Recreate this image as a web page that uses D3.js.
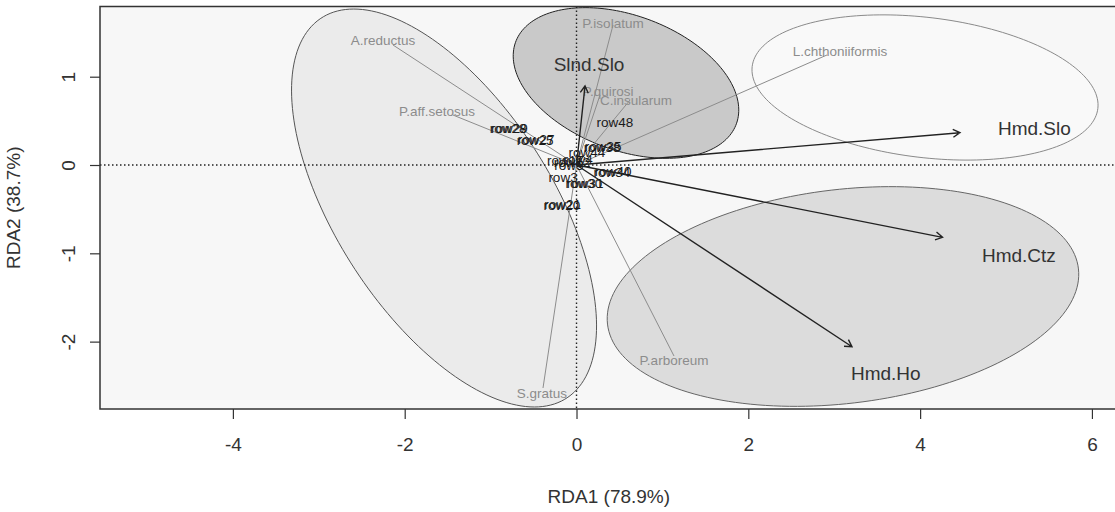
<!DOCTYPE html>
<html><head><meta charset="utf-8">
<script src="https://cdn.jsdelivr.net/npm/d3@7"></script>
<style>body{margin:0;background:#fff;} text{font-family:"Liberation Sans",Arial,sans-serif;}</style>
</head><body><svg id="c" width="1115" height="512"></svg>
<script>
// ---- data ----
const xTicks = [-4, -2, 0, 2, 4, 6];
const yTicks = [-2, -1, 0, 1];
const xTitle = "RDA1 (78.9%)";
const yTitle = "RDA2 (38.7%)";

// environmental arrows
const envNames = ["Slnd.Slo", "Hmd.Slo", "Hmd.Ctz", "Hmd.Ho"];
const envX = [0.099, 4.464, 4.261, 3.207];
const envY = [0.895, 0.366, -0.819, -2.058];
const envLabX = [0.146, 5.33, 5.15, 3.60];
const envLabY = [1.138, 0.413, -1.019, -2.36];

// species
const spNames = ["A.reductus", "P.aff.setosus", "P.isolatum", "P.quirosi", "C.insularum", "L.chthoniiformis", "P.arboreum", "S.gratus"];
const spX = [-2.136, -1.438, 0.425, 0.274, 0.623, 2.916, 1.135, -0.39];
const spY = [1.359, 0.566, 1.585, 0.793, 0.736, 1.246, -2.163, -2.525];
const spLabX = [-2.253, -1.624, 0.425, 0.367, 0.693, 3.067, 1.135, -0.402];
const spLabY = [1.416, 0.612, 1.608, 0.838, 0.736, 1.291, -2.208, -2.582];

// site (row) scores
const rowNames = ["row28", "row29", "row25", "row27", "row48", "row38", "row35", "row44", "row17", "row12", "row4", "row5", "row34", "row40", "row3", "row30", "row31", "row20", "row21"];
const rowX = [-0.797, -0.78, -0.483, -0.47, 0.448, 0.297, 0.31, 0.122, -0.13, -0.05, 0.02, -0.09, 0.413, 0.425, -0.157, 0.087, 0.1, -0.169, -0.16];
const rowY = [0.419, 0.412, 0.283, 0.29, 0.487, 0.204, 0.21, 0.147, 0.05, 0.03, 0.06, 0.0, -0.079, -0.07, -0.136, -0.204, -0.21, -0.453, -0.45];

// group ellipses (data units)
const ellNames = ["Sld.Slo.grp", "Slnd.Slo.grp", "Hmd.Slo.grp", "Hmd.Ctz.grp"];
const ellCx = [-1.542, 0.576, 4.057, 3.102];
const ellCy = [-0.487, 0.929, 0.878, -1.489];
const ellRx = [2.583, 1.366, 2.026, 2.759];
const ellRy = [1.248, 0.765, 0.793, 1.212];
const ellAng = [-56.06, -19.49, -6.7, 6.5];
const ellFill = ["#ebebeb", "#c9c9c9", "#f9f9f9", "#dcdcdc"];
const ellStroke = ["#555555", "#222222", "#8a8a8a", "#666666"];

// ---- layout ----
const svg = d3.select("#c");
const x = d3.scaleLinear().domain([-5.547, 6.3]).range([100, 1117.7]);
const y = d3.scaleLinear().domain([-2.763, 1.795]).range([409, 6.5]);

// plot background
svg.append("rect").attr("x", x(-5.547)).attr("y", y(1.795))
  .attr("width", x(6.3) - x(-5.547)).attr("height", y(-2.763) - y(1.795))
  .attr("fill", "#f7f7f7");

// ellipses
const line = d3.line().x(d => x(d[0])).y(d => y(d[1])).curve(d3.curveLinearClosed);
ellNames.forEach((n, i) => {
  const a = ellAng[i] * Math.PI / 180, pts = [];
  for (let k = 0; k < 180; k++) {
    const t = k / 180 * 2 * Math.PI;
    pts.push([
      ellCx[i] + ellRx[i] * Math.cos(t) * Math.cos(a) - ellRy[i] * Math.sin(t) * Math.sin(a),
      ellCy[i] + ellRx[i] * Math.cos(t) * Math.sin(a) + ellRy[i] * Math.sin(t) * Math.cos(a)
    ]);
  }
  svg.append("path").attr("d", line(pts)).attr("fill", ellFill[i])
    .attr("stroke", ellStroke[i]).attr("stroke-width", 1);
});

// zero lines
svg.append("line").attr("x1", x(-5.547)).attr("x2", x(6.3)).attr("y1", y(0)).attr("y2", y(0))
  .attr("stroke", "#222").attr("stroke-width", 1.4).attr("stroke-dasharray", "1.5,2.5");
svg.append("line").attr("x1", x(0)).attr("x2", x(0)).attr("y1", y(1.795)).attr("y2", y(-2.763))
  .attr("stroke", "#222").attr("stroke-width", 1.4).attr("stroke-dasharray", "1.5,2.5");

// species lines + labels
spNames.forEach((n, i) => {
  svg.append("line").attr("x1", x(0)).attr("y1", y(0)).attr("x2", x(spX[i])).attr("y2", y(spY[i]))
    .attr("stroke", "#8c8c8c").attr("stroke-width", 1);
});
spNames.forEach((n, i) => {
  svg.append("text").attr("x", x(spLabX[i])).attr("y", y(spLabY[i])).attr("dy", "0.35em")
    .attr("text-anchor", "middle").attr("font-size", 13.5).attr("fill", "#8c8c8c").text(n);
});

// row labels
rowNames.forEach((n, i) => {
  svg.append("text").attr("x", x(rowX[i])).attr("y", y(rowY[i])).attr("dy", "0.35em")
    .attr("text-anchor", "middle").attr("font-size", 13.5).attr("fill", "#1a1a1a").text(n);
});

// env arrows
envNames.forEach((n, i) => {
  const x0 = x(0), y0 = y(0), x1 = x(envX[i]), y1 = y(envY[i]);
  const ang = Math.atan2(y1 - y0, x1 - x0), L = 8, h = Math.PI / 6;
  const p = d3.path();
  p.moveTo(x0, y0); p.lineTo(x1, y1);
  p.moveTo(x1 - L * Math.cos(ang - h), y1 - L * Math.sin(ang - h));
  p.lineTo(x1, y1);
  p.lineTo(x1 - L * Math.cos(ang + h), y1 - L * Math.sin(ang + h));
  svg.append("path").attr("d", p.toString()).attr("fill", "none")
    .attr("stroke", "#222").attr("stroke-width", 1.4);
  svg.append("text").attr("x", x(envLabX[i])).attr("y", y(envLabY[i])).attr("dy", "0.35em")
    .attr("text-anchor", "middle").attr("font-size", 19).attr("fill", "#333").text(n);
});

// box
svg.append("rect").attr("x", x(-5.547)).attr("y", y(1.795))
  .attr("width", x(6.3) - x(-5.547)).attr("height", y(-2.763) - y(1.795))
  .attr("fill", "none").attr("stroke", "#333").attr("stroke-width", 1.5);

// axes
const gx = svg.append("g").attr("transform", `translate(0,${y(-2.763)})`)
  .call(d3.axisBottom(x).tickValues(xTicks).tickSize(10).tickPadding(19).tickFormat(d3.format("d")));
gx.select(".domain").remove();
gx.selectAll("line").attr("stroke", "#333").attr("stroke-width", 1.2);
gx.selectAll("text").attr("font-size", 19).attr("fill", "#333")
  .attr("font-family", "Liberation Sans, Arial, sans-serif").text(d => d < 0 ? "-" + Math.abs(d) : d);

const gy = svg.append("g").attr("transform", `translate(${x(-5.547)},0)`)
  .call(d3.axisLeft(y).tickValues(yTicks).tickSize(10).tickFormat(d3.format("d")));
gy.select(".domain").remove();
gy.selectAll("line").attr("stroke", "#333").attr("stroke-width", 1.2);
gy.selectAll("text").remove();
gy.selectAll(".tick").append("text")
  .attr("transform", "translate(-25,0) rotate(-90)")
  .attr("text-anchor", "middle").attr("font-size", 19).attr("fill", "#333")
  .attr("font-family", "Liberation Sans, Arial, sans-serif")
  .text(d => d < 0 ? "-" + Math.abs(d) : d);

// titles
svg.append("text").attr("x", (x(-5.547) + x(6.3)) / 2).attr("y", 503)
  .attr("text-anchor", "middle").attr("font-size", 19).attr("fill", "#333").text(xTitle);
svg.append("text").attr("transform", `translate(20,${(y(1.795) + y(-2.763)) / 2}) rotate(-90)`)
  .attr("text-anchor", "middle").attr("font-size", 19).attr("fill", "#333").text(yTitle);
</script></body></html>
